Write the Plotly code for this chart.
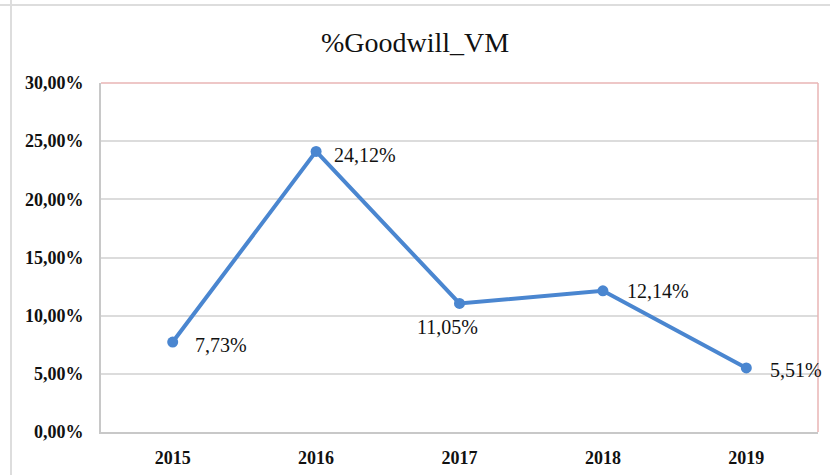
import plotly.graph_objects as go

years = ["2015", "2016", "2017", "2018", "2019"]
goodwill_vm = [7.73, 24.12, 11.05, 12.14, 5.51]
# label offsets (pixels) relative to each point
label_dx = [20, 16, -12, 22, 22]
label_dy = [-3, -4, -24, 0, -2]
label_anchor = ["left", "left", "center", "left", "left"]
y_ticks = [0, 5, 10, 15, 20, 25, 30]
y_tick_text = ["0,00%", "5,00%", "10,00%", "15,00%", "20,00%", "25,00%", "30,00%"]

labels = [f"{v:.2f}%".replace(".", ",") for v in goodwill_vm]
SERIF = "Liberation Serif"

fig = go.Figure(
    go.Scatter(
        x=years,
        y=goodwill_vm,
        mode="lines+markers",
        line=dict(color="#4a86d0", width=4),
        marker=dict(color="#4a86d0", size=11),
        cliponaxis=False,
        hoverinfo="skip",
    )
)

# category axes take annotation positions as category index
annotations = [
    dict(
        x=i, y=y, xref="x", yref="y", text=t, showarrow=False,
        xanchor=a, yanchor="middle", xshift=dx, yshift=dy,
        font=dict(family=SERIF, size=20, color="#111111"),
    )
    for i, (y, t, a, dx, dy) in enumerate(zip(goodwill_vm, labels, label_anchor, label_dx, label_dy))
]

serif_bold = dict(family=SERIF, size=18, color="#111111", weight="bold")

fig.update_layout(
    width=830,
    height=475,
    margin=dict(l=101, r=12, t=83, b=43),
    paper_bgcolor="white",
    plot_bgcolor="white",
    showlegend=False,
    title=dict(
        text="%Goodwill_VM",
        x=0.5,
        xanchor="center",
        y=1 - 42 / 475,
        yanchor="middle",
        font=dict(family=SERIF, size=28, color="#111111"),
    ),
    xaxis=dict(
        type="category",
        range=[-0.5, 4.5],
        showgrid=False,
        showline=True,
        linecolor="#c8c8c8",
        linewidth=2,
        ticks="",
        tickfont=serif_bold,
        ticklabelstandoff=8,
        automargin=False,
    ),
    yaxis=dict(
        range=[0, 30],
        tickvals=y_ticks,
        ticktext=y_tick_text,
        showgrid=True,
        gridcolor="#dcdcdc",
        gridwidth=1.5,
        zeroline=False,
        showline=True,
        linecolor="#c8c8c8",
        linewidth=2,
        ticks="",
        tickfont=serif_bold,
        ticklabelstandoff=12,
        automargin=False,
    ),
    annotations=annotations,
    shapes=[
        # reddish frame along the top and right of the plot area
        dict(type="line", xref="paper", yref="paper", x0=0, x1=1, y0=1, y1=1,
             line=dict(color="#e8b4b4", width=1.5)),
        dict(type="line", xref="paper", yref="paper", x0=1, x1=1, y0=0, y1=1,
             line=dict(color="#e8b4b4", width=1.5)),
        # outer chart frame
        dict(type="line", xref="paper", yref="paper",
             x0=-90 / 717, x1=-90 / 717, y0=-1, y1=2,
             line=dict(color="#dddddd", width=2)),
        dict(type="line", xref="paper", yref="paper",
             x0=-1, x1=2, y0=1 + 78 / 349, y1=1 + 78 / 349,
             line=dict(color="#dddddd", width=2)),
    ],
)

fig.write_html("out.html")
